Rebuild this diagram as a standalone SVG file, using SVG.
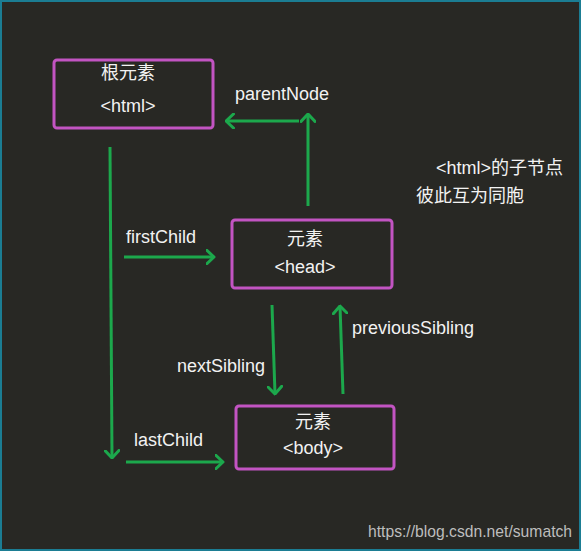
<svg xmlns="http://www.w3.org/2000/svg" width="581" height="551" viewBox="0 0 581 551">
  <style>
    .node rect { fill: none; stroke: #c254c2; stroke-width: 3; }
    .t { font-family: "Liberation Sans", "Noto Sans CJK SC", sans-serif; font-size: 18px; fill: #f2f2f2; }
    .c { text-anchor: middle; }
    .edge { fill: none; stroke: #1ca84c; stroke-width: 3; marker-end: url(#arr); }
  </style>
  <defs>
    <marker id="arr" viewBox="0 0 10 16" refX="8.5" refY="8" markerWidth="10" markerHeight="16" markerUnits="userSpaceOnUse" orient="auto">
      <path d="M1,1 L8.5,8 L1,15" fill="none" stroke="#1ca84c" stroke-width="3" stroke-linecap="round" stroke-linejoin="round"/>
    </marker>
  </defs>
  <rect x="1" y="1" width="579" height="549" fill="#282824" stroke="#1b7d93" stroke-width="2"/>

  <g id="node-html" class="node">
    <rect x="54" y="60" width="159" height="68" rx="3"/>
    <text class="t c" x="128" y="79">根元素</text>
    <text class="t c" x="128" y="112">&lt;html&gt;</text>
  </g>
  <g id="node-head" class="node">
    <rect x="232" y="220" width="160" height="68" rx="3"/>
    <text class="t c" x="305" y="245">元素</text>
    <text class="t c" x="305" y="273">&lt;head&gt;</text>
  </g>
  <g id="node-body" class="node">
    <rect x="236" y="406" width="158" height="63" rx="3"/>
    <text class="t c" x="313" y="428">元素</text>
    <text class="t c" x="313" y="454">&lt;body&gt;</text>
  </g>

  <g id="connectors">
    <path class="edge" d="M308,206 L308,114"/>
    <path class="edge" d="M299,121 L226,121"/>
    <path class="edge" d="M110,147 L112,458"/>
    <path class="edge" d="M124,257 L214,257"/>
    <path class="edge" d="M126,462 L223,462"/>
    <path class="edge" d="M272,305 L275,394"/>
    <path class="edge" d="M343,394 L340,306"/>
  </g>

  <g id="labels">
    <text class="t" x="235" y="100">parentNode</text>
    <text class="t" x="126" y="243">firstChild</text>
    <text class="t" x="134" y="446">lastChild</text>
    <text class="t" x="177" y="372">nextSibling</text>
    <text class="t" x="352" y="334">previousSibling</text>
    <text class="t" x="436" y="174">&lt;html&gt;的子节点</text>
    <text class="t" x="416" y="202">彼此互为同胞</text>
  </g>
  <text x="368" y="537" font-family="Liberation Sans, sans-serif" font-size="15.7" fill="#bdbdbd">https://blog.csdn.net/sumatch</text>
</svg>
